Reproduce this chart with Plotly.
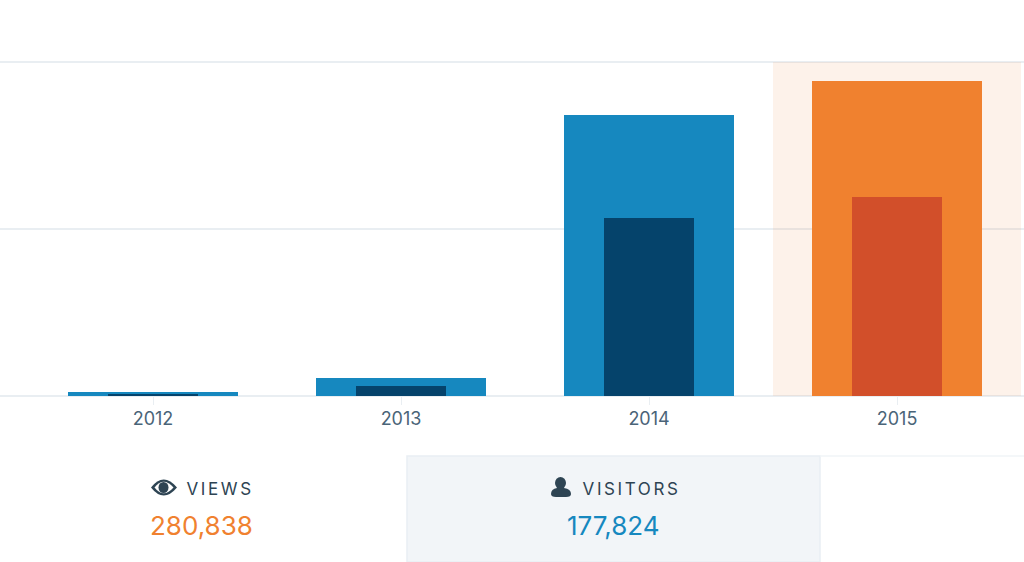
import plotly.graph_objects as go

years = ["2012", "2013", "2014", "2015"]
views = [1800, 8100, 126200, 141600]
visitors = [900, 4500, 79900, 89400]
highlight = [None, None, None, 150000]
y_ticks = [0, 75000, 150000]
views_total = "280,838"
visitors_total = "177,824"

W, H = 1024, 562
BLUE, NAVY, ORANGE, RED = "#1688bf", "#05436b", "#f0812f", "#d24f2a"
SLATE = "#2e4453"
TICK = "#4a6478"
GRID = "#e9eef2"


def px(x):
    return x / W


def py(y):
    return 1 - y / H


fig = go.Figure()
fig.add_bar(x=years, y=highlight, width=1.0, marker=dict(color="rgba(240,129,47,0.10)", line_width=0),
            hoverinfo="skip", showlegend=False)
fig.add_bar(x=years, y=views, width=0.683, name="Views",
            marker=dict(color=[BLUE, BLUE, BLUE, ORANGE], line_width=0), showlegend=False)
fig.add_bar(x=years, y=visitors, width=0.363, name="Visitors",
            marker=dict(color=[NAVY, NAVY, NAVY, RED], line_width=0), showlegend=False)


def P(x, y):
    return f"{px(x):.5f},{py(y):.5f}"


shapes = [
    dict(type="rect", xref="paper", yref="paper", x0=px(407), x1=px(820), y0=0, y1=py(456),
         fillcolor="#f2f5f8", line=dict(color="#e9eef3", width=1.5), layer="below"),
    dict(type="line", xref="paper", yref="paper", x0=px(820), x1=1, y0=py(456), y1=py(456),
         line=dict(color="#f1f4f7", width=1.5), layer="below"),
    dict(type="path", xref="paper", yref="paper", fillcolor=SLATE, line_width=0,
         path=(f"M{P(151,487.5)} Q{P(163.5,471.5)} {P(177,487.5)} Q{P(163.5,503.5)} {P(151,487.5)} Z")),
    dict(type="path", xref="paper", yref="paper", fillcolor="#ffffff", line_width=0,
         path=(f"M{P(154.5,487.5)} Q{P(163.5,476)} {P(173.5,487.5)} Q{P(163.5,499)} {P(154.5,487.5)} Z")),
    dict(type="circle", xref="paper", yref="paper", fillcolor=SLATE, line_width=0,
         x0=px(158.5), x1=px(168.5), y0=py(493), y1=py(482)),
    dict(type="circle", xref="paper", yref="paper", fillcolor=SLATE, line_width=0,
         x0=px(555), x1=px(566), y0=py(489), y1=py(477)),
    dict(type="path", xref="paper", yref="paper", fillcolor=SLATE, line_width=0,
         path=(f"M{P(551,494)} Q{P(551,489)} {P(557,488)} L{P(564,488)} Q{P(571,489)} {P(571,494)} "
               f"Q{P(571,497)} {P(566,497)} L{P(556,497)} Q{P(551,497)} {P(551,494)} Z")),
]

font = "Inter, 'Open Sans', sans-serif"
annotations = [
    dict(text="VIEWS", x=px(219.5), y=py(488.5), xanchor="center", font=dict(size=17, color=SLATE, family=font)),
    dict(text="VISITORS", x=px(631.5), y=py(488.5), xanchor="center", font=dict(size=17, color=SLATE, family=font)),
    dict(text=views_total, x=px(201.5), y=py(525.5), xanchor="center", font=dict(size=26, color=ORANGE, family=font)),
    dict(text=visitors_total, x=px(613.5), y=py(525.5), xanchor="center", font=dict(size=26, color=BLUE, family=font)),
]
for a in annotations:
    a.update(xref="paper", yref="paper", yanchor="middle", showarrow=False, borderpad=0)

fig.update_layout(
    width=W, height=H, autosize=False, barmode="overlay", bargap=0,
    margin=dict(l=0, r=0, t=0, b=0),
    paper_bgcolor="#ffffff", plot_bgcolor="#ffffff",
    shapes=shapes, annotations=annotations,
    xaxis=dict(type="category", categoryorder="array", categoryarray=years, range=[-0.617, 3.512],
               domain=[0, 1], showgrid=False, showline=False, zeroline=False,
               ticks="outside", ticklen=8, tickwidth=1, tickcolor=GRID, ticklabelstandoff=-2,
               tickfont=dict(size=18, color=TICK, family=font)),
    yaxis=dict(domain=[py(396), py(59)], range=[0, 151347], tickvals=y_ticks, showticklabels=False,
               gridcolor=GRID, gridwidth=1.5, zeroline=True, zerolinecolor=GRID, zerolinewidth=1.5,
               showline=False, ticks=""),
)

page_fix = """
document.documentElement.style.margin = '0';
document.body.style.margin = '0';
document.body.style.overflow = 'hidden';
document.querySelectorAll('.annotation-text').forEach(function (t) {
  if (/^[A-Z]+$/.test(t.textContent)) { t.style.letterSpacing = '2.6px'; }
});
"""
fig.write_html("out.html", post_script=page_fix, config=dict(displayModeBar=False))
